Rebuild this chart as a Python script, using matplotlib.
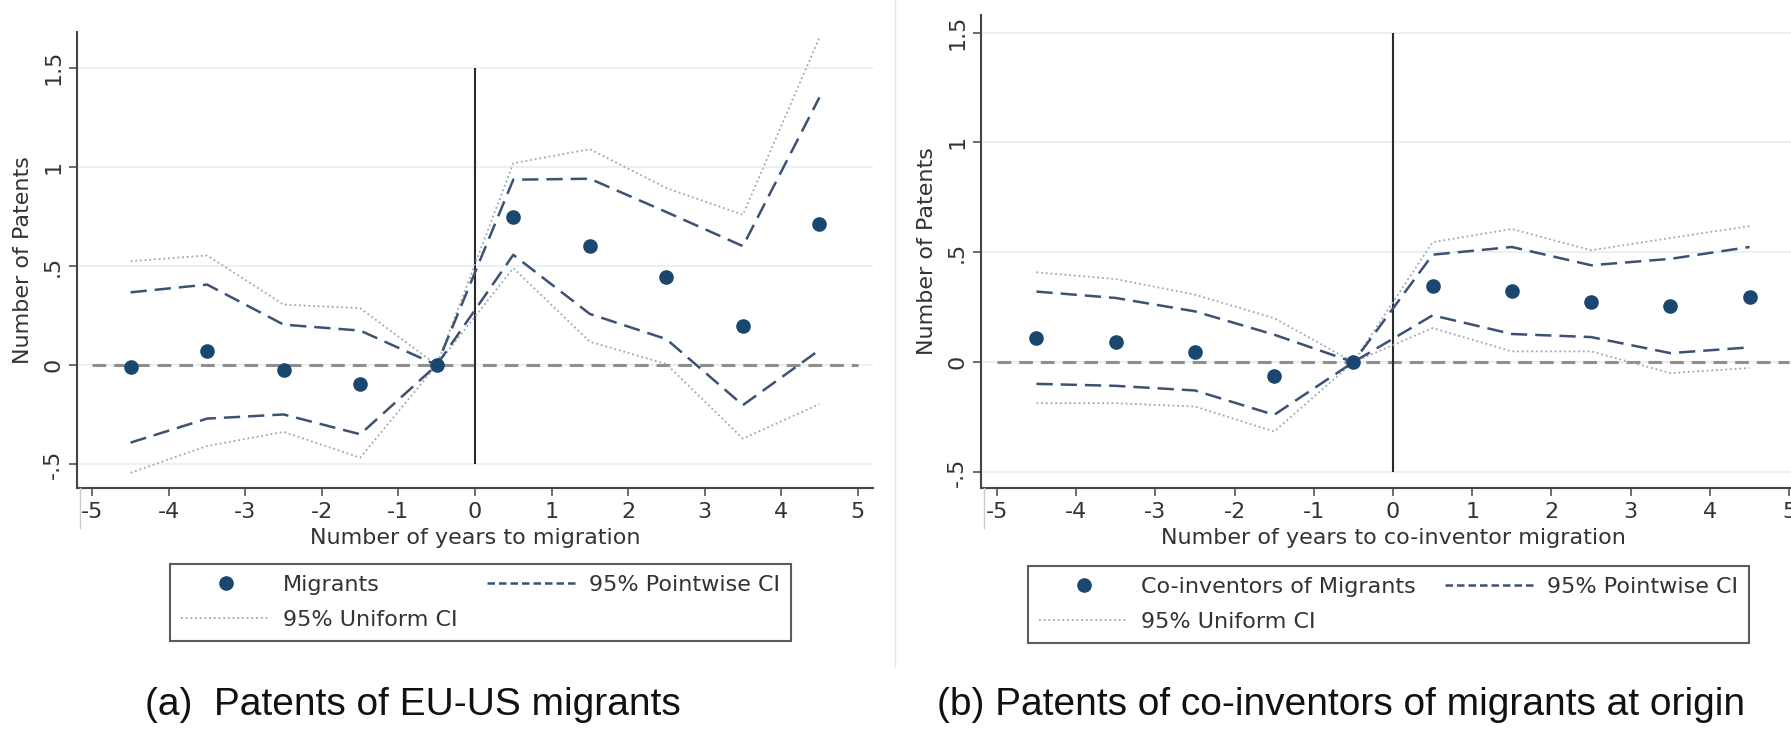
import matplotlib.pyplot as plt
from matplotlib.lines import Line2D

# event time (years relative to migration)
years = [-4.5, -3.5, -2.5, -1.5, -0.5, 0.5, 1.5, 2.5, 3.5, 4.5]

# panel (a): EU-US migrants
mig_coef = [-0.012, 0.069, -0.024, -0.093, 0.0, 0.747, 0.602, 0.445, 0.199, 0.710]
mig_pw_hi = [0.367, 0.406, 0.204, 0.174, 0.0, 0.935, 0.940, 0.772, 0.600, 1.350]
mig_pw_lo = [-0.391, -0.270, -0.249, -0.349, 0.0, 0.556, 0.258, 0.131, -0.202, 0.076]
mig_un_hi = [0.524, 0.553, 0.305, 0.287, 0.0, 1.018, 1.089, 0.893, 0.758, 1.652]
mig_un_lo = [-0.543, -0.408, -0.337, -0.467, 0.0, 0.489, 0.118, 0.005, -0.371, -0.197]

# panel (b): co-inventors of migrants at origin
co_coef = [0.109, 0.091, 0.046, -0.065, 0.0, 0.348, 0.325, 0.274, 0.254, 0.295]
co_pw_hi = [0.321, 0.292, 0.231, 0.125, 0.0, 0.489, 0.524, 0.441, 0.470, 0.524]
co_pw_lo = [-0.099, -0.108, -0.129, -0.240, 0.0, 0.213, 0.128, 0.114, 0.041, 0.067]
co_un_hi = [0.409, 0.378, 0.307, 0.200, 0.0, 0.546, 0.606, 0.509, 0.565, 0.619]
co_un_lo = [-0.187, -0.187, -0.202, -0.316, 0.0, 0.155, 0.049, 0.049, -0.050, -0.027]

yticks = [-0.5, 0, 0.5, 1, 1.5]
ytick_labels = ["-.5", "0", ".5", "1", "1.5"]
xticks = [-5, -4, -3, -2, -1, 0, 1, 2, 3, 4, 5]

NAVY = "#1a476f"
DASH = "#3b5272"
DOT = "#9ea7b6"
FS = 16

plt.rcParams["font.family"] = "DejaVu Sans"

fig = plt.figure(figsize=(17.91, 7.31), dpi=100)
ax1 = fig.add_axes([77 / 1791, 1 - 488 / 731, 796 / 1791, 456 / 731])
ax2 = fig.add_axes([981 / 1791, 1 - 488 / 731, 824 / 1791, 473 / 731])


def draw_panel(ax, coef, pw_hi, pw_lo, un_hi, un_lo, ylim, xlabel, point_label):
    for y in yticks:
        ax.axhline(y, color="#ebf0f0", lw=1.5, zorder=0)
    ax.hlines(0, -5, 5, color="#8f8f8f", lw=2.2, linestyles=(0, (4.5, 2.6)), zorder=1)
    ax.vlines(0, -0.5, 1.5, color="#2a2a2a", lw=1.5, zorder=2)
    ax.plot(years, un_hi, color=DOT, lw=1.3, ls=(0, (1, 1.6)), zorder=3)
    ax.plot(years, un_lo, color=DOT, lw=1.3, ls=(0, (1, 1.6)), zorder=3)
    ax.plot(years, pw_hi, color=DASH, lw=1.8, ls=(0, (6.5, 3.2)), zorder=4)
    ax.plot(years, pw_lo, color=DASH, lw=1.8, ls=(0, (6.5, 3.2)), zorder=4)
    ax.plot(years, coef, "o", color=NAVY, ms=9.5, zorder=5)

    ax.set_xlim(-5.2, 5.2)
    ax.set_ylim(*ylim)
    ax.set_xticks(xticks)
    ax.set_xticklabels([str(t) for t in xticks])
    ax.set_yticks(yticks)
    ax.set_yticklabels(ytick_labels, rotation=90, va="center")
    for s in ["top", "right"]:
        ax.spines[s].set_visible(False)
    for s in ["left", "bottom"]:
        ax.spines[s].set_color("#444444")
        ax.spines[s].set_linewidth(1.5)
    ax.tick_params(length=6, width=1.1, color="#444444", labelsize=FS,
                   labelcolor="#333333", pad=4)
    ax.set_xlabel(xlabel, fontsize=FS, color="#333333")
    ax.set_ylabel("Number of Patents", fontsize=FS, color="#333333")

    handles = [
        Line2D([], [], ls="none", marker="o", color=NAVY, ms=9.5),
        Line2D([], [], color=DOT, lw=1.3, ls=(0, (1, 1.6))),
        Line2D([], [], color=DASH, lw=1.8, ls=(0, (3, 1.6))),
    ]
    labels = [point_label, "95% Uniform CI", "95% Pointwise CI"]
    return handles, labels


h1, l1 = draw_panel(ax1, mig_coef, mig_pw_hi, mig_pw_lo, mig_un_hi, mig_un_lo,
                    (-0.62, 1.68), "Number of years to migration", "Migrants")
h2, l2 = draw_panel(ax2, co_coef, co_pw_hi, co_pw_lo, co_un_hi, co_un_lo,
                    (-0.573, 1.58), "Number of years to co-inventor migration",
                    "Co-inventors of Migrants")

ax1.xaxis.set_label_coords(0.5, -0.088)
ax2.xaxis.set_label_coords(0.5, -0.085)
ax1.yaxis.set_label_coords(-0.055, 0.5)
ax2.yaxis.set_label_coords(-0.053, 0.5)

leg_kw = dict(ncol=2, fontsize=FS, frameon=True, fancybox=False, handlelength=4.0,
              handletextpad=0.6, columnspacing=1.3, labelspacing=0.65,
              borderpad=0.5, borderaxespad=0, labelcolor="#333333",
              loc="upper left", bbox_transform=fig.transFigure)
lg1 = ax1.legend(h1, l1, bbox_to_anchor=(170 / 1791, 1 - 564 / 731), **leg_kw)
lg2 = ax2.legend(h2, l2, bbox_to_anchor=(1028 / 1791, 1 - 566 / 731), **leg_kw)
for lg in (lg1, lg2):
    lg.get_frame().set_edgecolor("#333333")
    lg.get_frame().set_linewidth(1.5)

# thin separators between the two graphs
fig.add_artist(Line2D([895 / 1791, 895 / 1791], [1 - 667 / 731, 1], color="#e6e6e6", lw=1))
for xp in (80, 984):
    fig.add_artist(Line2D([xp / 1791, xp / 1791], [1 - 488 / 731, 1 - 528 / 731],
                          color="#cccccc", lw=1))

cap_kw = dict(fontsize=28, family="Liberation Sans", ha="center", va="baseline",
              color="#111111")
fig.text(413 / 1791, 1 - 715 / 731, "(a)  Patents of EU-US migrants", **cap_kw)
fig.text(1341 / 1791, 1 - 715 / 731, "(b) Patents of co-inventors of migrants at origin", **cap_kw)

fig.savefig("out.png", dpi=100, facecolor="white")
